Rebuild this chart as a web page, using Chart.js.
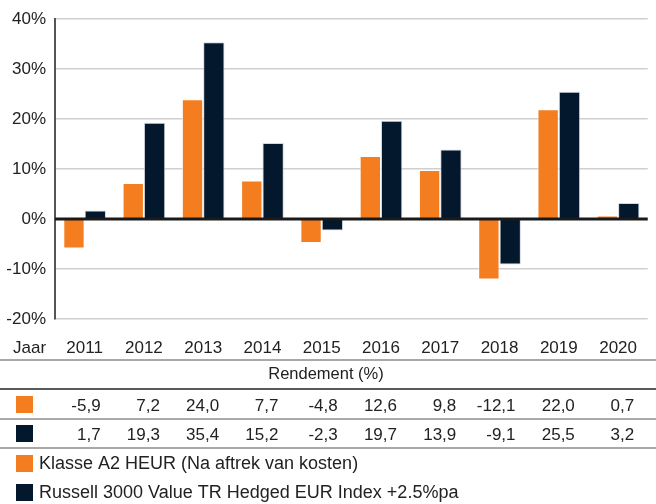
<!DOCTYPE html>
<html>
<head>
<meta charset="utf-8">
<script src="https://cdn.jsdelivr.net/npm/chart.js@4/dist/chart.umd.min.js"></script>
<style>
html,body{margin:0;padding:0;background:#fff;}
#wrap{position:relative;width:656px;height:504px;}
</style>
</head>
<body>
<div id="wrap"><canvas id="c" width="656" height="504"></canvas></div>
<script>
const years = ['2011','2012','2013','2014','2015','2016','2017','2018','2019','2020'];
const fundReturns = [-5.9, 7.2, 24.0, 7.7, -4.8, 12.6, 9.8, -12.1, 22.0, 0.7];
const indexReturns = [1.7, 19.3, 35.4, 15.2, -2.3, 19.7, 13.9, -9.1, 25.5, 3.2];
const fundLabel = 'Klasse A2 HEUR (Na aftrek van kosten)';
const indexLabel = 'Russell 3000 Value TR Hedged EUR Index +2.5%pa';
const yMin = -20, yMax = 40, yStep = 10;
const xTitle = 'Jaar';
const tableTitle = 'Rendement (%)';

const ORANGE = '#F47D20';
const NAVY = '#04182D';
const FONT = '"Liberation Sans", Arial, Helvetica, sans-serif';
const TEXT = '#222';

const fmt = v => v.toFixed(1).replace('.', ',');

const tablePlugin = {
  id: 'tablePlugin',
  afterDatasetsDraw(chart) {
    const ctx = chart.ctx;
    const y = chart.scales.y;
    const ca = chart.chartArea;
    ctx.save();
    const y0 = y.getPixelForValue(0);
    ctx.strokeStyle = '#1a1a1a';
    ctx.lineWidth = 3;
    ctx.beginPath(); ctx.moveTo(ca.left, y0); ctx.lineTo(ca.right, y0); ctx.stroke();
    ctx.restore();
  },
  afterDraw(chart) {
    const ctx = chart.ctx;
    const x = chart.scales.x;
    const W = chart.width;
    ctx.save();
    ctx.fillStyle = TEXT;
    ctx.font = '17px ' + FONT;
    ctx.textBaseline = 'middle';
    ctx.textAlign = 'left';
    ctx.fillText(xTitle, 13, 348);

    const hline = (yy, col, w) => {
      ctx.strokeStyle = col; ctx.lineWidth = w;
      ctx.beginPath(); ctx.moveTo(0, yy); ctx.lineTo(W, yy); ctx.stroke();
    };
    hline(360, '#8c8c8c', 1.5);
    ctx.textAlign = 'center';
    ctx.font = '16.5px ' + FONT;
    ctx.fillText(tableTitle, 326, 374);
    hline(389, '#222', 1.5);

    const rows = [[fundReturns, ORANGE, 405], [indexReturns, NAVY, 434]];
    ctx.font = '17px ' + FONT;
    rows.forEach(([vals, col, yy]) => {
      ctx.fillStyle = col;
      ctx.fillRect(16, yy - 9, 17, 17);
      ctx.fillStyle = TEXT;
      ctx.textAlign = 'right';
      vals.forEach((v, i) => {
        ctx.fillText(fmt(v), x.getPixelForValue(i) + 16, yy + 1);
      });
    });
    hline(419, '#8c8c8c', 1.5);
    hline(448, '#8c8c8c', 1.5);

    const leg = [[fundLabel, ORANGE, 463], [indexLabel, NAVY, 492]];
    ctx.font = '18px ' + FONT;
    leg.forEach(([t, col, yy]) => {
      ctx.fillStyle = col;
      ctx.fillRect(16, yy - 8, 17, 17);
      ctx.fillStyle = TEXT;
      ctx.textAlign = 'left';
      ctx.fillText(t, 39, yy + 1);
    });
    ctx.restore();
  }
};

new Chart(document.getElementById('c'), {
  type: 'bar',
  data: {
    labels: years,
    datasets: [
      { label: fundLabel, data: fundReturns, backgroundColor: ORANGE, borderColor: 'rgba(255,255,255,0.7)', borderWidth: 1, categoryPercentage: 0.72, barPercentage: 1.0 },
      { label: indexLabel, data: indexReturns, backgroundColor: NAVY, borderColor: 'rgba(200,205,215,0.8)', borderWidth: 1, categoryPercentage: 0.72, barPercentage: 1.0 }
    ]
  },
  options: {
    responsive: false,
    animation: false,
    devicePixelRatio: 1,
    layout: { padding: { top: 17, right: 0, left: 0, bottom: 0 } },
    plugins: { legend: { display: false }, tooltip: { enabled: false } },
    scales: {
      x: {
        grid: { display: false, drawTicks: false },
        border: { display: false },
        ticks: { color: TEXT, font: { size: 17, family: FONT }, padding: 19, maxRotation: 0, autoSkip: false },
        afterFit(s) { s.height = 185; }
      },
      y: {
        min: yMin, max: yMax,
        ticks: { stepSize: yStep, color: TEXT, font: { size: 17, family: FONT }, padding: 9, callback: v => v + '%' },
        grid: { color: '#cfcfcf', lineWidth: 1.5, drawTicks: false },
        border: { display: true, color: '#555', width: 2 },
        afterFit(s) { s.width = 55; }
      }
    }
  },
  plugins: [tablePlugin]
});
</script>
</body>
</html>
